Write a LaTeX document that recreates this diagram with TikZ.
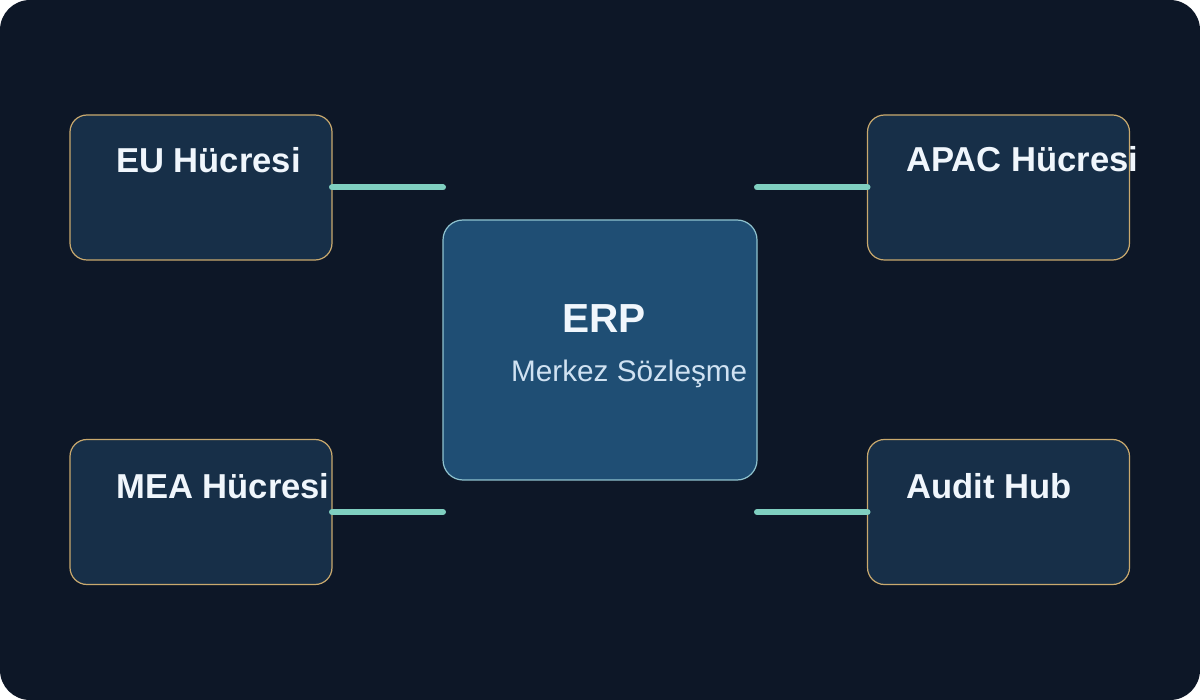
\documentclass[tikz,border=0pt]{standalone}
\usepackage{fontspec}
\setmainfont{Liberation Sans}
\definecolor{bgdark}{HTML}{0D1727}
\definecolor{cellfill}{HTML}{172F48}
\definecolor{cellborder}{HTML}{C9A96E}
\definecolor{hubfill}{HTML}{1F4E74}
\definecolor{hubborder}{HTML}{8FC3CF}
\definecolor{linkcol}{HTML}{7FCFC0}
\definecolor{titlecol}{HTML}{F0F6FC}
\definecolor{subcol}{HTML}{D0E2F2}
\begin{document}
\begin{tikzpicture}[x=1pt,y=-1pt,
  cellbox/.style={draw=cellborder, fill=cellfill, line width=1.2pt, rounded corners=17pt,
    minimum width=262pt, minimum height=145pt, inner sep=0pt, outer sep=0pt},
  hubbox/.style={draw=hubborder, fill=hubfill, line width=1.2pt, rounded corners=20pt,
    minimum width=314pt, minimum height=260pt, inner sep=0pt, outer sep=0pt},
  celltitle/.style={anchor=base west, inner sep=0pt, text=titlecol, font=\fontsize{34.6}{40}\selectfont\bfseries},
  hubtitle/.style={anchor=base west, inner sep=0pt, text=titlecol, font=\fontsize{40.6}{46}\selectfont\bfseries},
  hubsub/.style={anchor=base west, inner sep=0pt, text=subcol, font=\fontsize{29.7}{36}\selectfont},
  link/.style={draw=linkcol, line width=6pt, line cap=round}
]
\useasboundingbox (0,0) rectangle (1200,700);
\fill[white] (0,0) rectangle (1200,700);
\fill[bgdark, rounded corners=30pt] (0,0) rectangle (1200,700);

\node[cellbox] (eu) at (201,187.5) {};
\node[cellbox] (apac) at (998.5,187.5) {};
\node[cellbox] (mea) at (201,512) {};
\node[cellbox] (audit) at (998.5,512) {};
\node[hubbox] (erp) at (600,350) {};

\draw[link] (eu.east) -- (eu.east -| erp.west);
\draw[link] (erp.east |- apac.west) -- (apac.west);
\draw[link] (mea.east) -- (mea.east -| erp.west);
\draw[link] (erp.east |- audit.west) -- (audit.west);

\node[celltitle] (eut) at (116,173) {EU Hücresi};
\node[celltitle] (apact) at (906,172) {APAC Hücresi};
\node[celltitle] (meat) at (116,498) {MEA Hücresi};
\node[celltitle] (auditt) at (906,498) {Audit Hub};
\node[hubtitle] (erpt) at (562,333) {ERP};
\node[hubsub] (erps) at (511,382) {Merkez Sözleşme};
\end{tikzpicture}
\end{document}
